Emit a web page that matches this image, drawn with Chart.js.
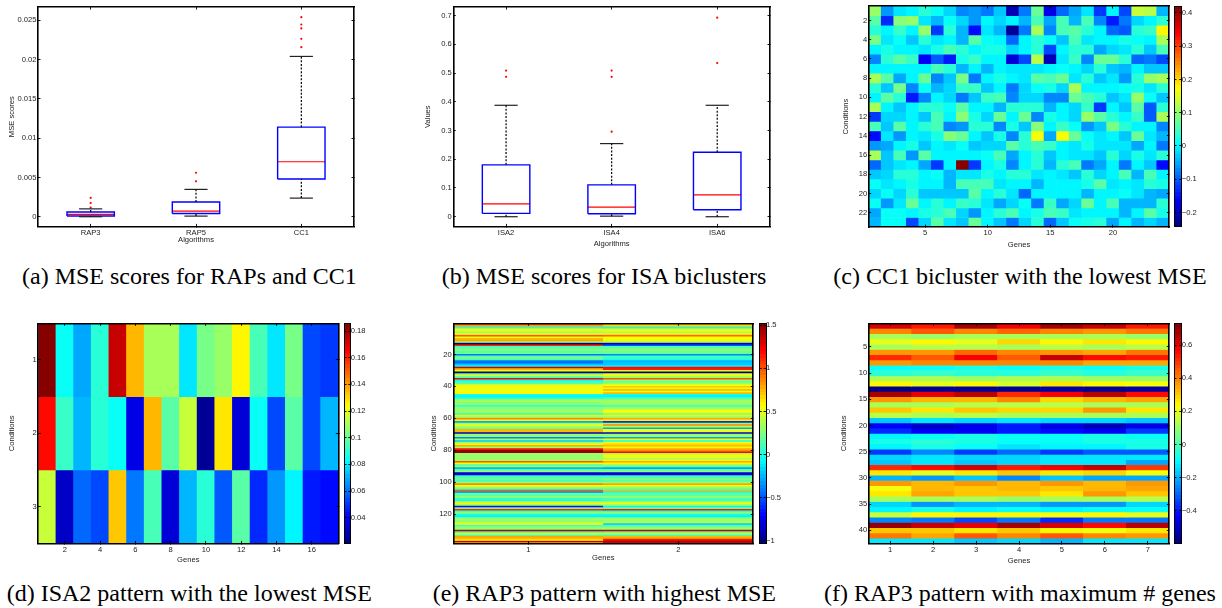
<!DOCTYPE html>
<html><head><meta charset="utf-8"><title>Bicluster figure</title>
<script src="https://cdn.jsdelivr.net/npm/chart.js@4"></script>
<style>
html,body{margin:0;padding:0;background:#fff;width:1222px;height:608px;overflow:hidden}
canvas{position:absolute;display:block;filter:blur(0.45px)}
.cap{position:absolute;font-family:"Liberation Serif",serif;font-size:24px;color:#000;white-space:pre;line-height:24px}
</style></head><body>
<script>
// ---------- data: panel (a)
const algosA=['RAP3','RAP5','CC1'];
const q1A=[0.0001,0.00042,0.0048];
const medA=[0.0003,0.00072,0.007];
const q3A=[0.0006,0.00187,0.0114];
const whiskLowA=[0,0.00008,0.00237];
const whiskHighA=[0.001,0.00348,0.0204];
const outliersA=[[0.0024,0.00174,0.00115],[0.0056,0.0045],[0.0254,0.02446,0.02396,0.02264,0.02158]];
const yTicksA=[0,0.005,0.01,0.015,0.02,0.025];
// ---------- data: panel (b)
const algosB=['ISA2','ISA4','ISA6'];
const q1B=[0.0116,0.0104,0.0243];
const medB=[0.045,0.0336,0.0764];
const q3B=[0.1806,0.111,0.2245];
const whiskLowB=[0,0.002,0];
const whiskHighB=[0.388,0.2546,0.388];
const outliersB=[[0.509,0.487],[0.509,0.487,0.296],[0.693,0.535]];
const yTicksB=[0,0.1,0.2,0.3,0.4,0.5,0.6,0.7];
// ---------- data: panel (c) conditions x genes
const matrixC=[
[0.10,-0.06,-0.01,0.0,0.03,0.01,-0.02,-0.07,-0.06,-0.08,-0.03,-0.21,-0.08,0.07,-0.18,-0.09,-0.05,-0.01,-0.12,0.0,-0.11,0.14,0.13,-0.04],
[0.06,-0.13,0.09,0.10,-0.01,-0.04,0.01,-0.02,-0.06,0.0,-0.02,0.0,-0.04,0.05,-0.05,0.05,-0.04,0.05,-0.07,-0.14,-0.08,-0.02,0.0,0.03],
[0.03,0.0,0.04,0.0,0.10,-0.12,0.03,-0.04,-0.15,-0.01,-0.04,-0.23,-0.08,0.12,-0.07,0.05,0.06,0.03,0.0,-0.09,-0.10,0.03,0.04,0.18],
[0.08,-0.01,0.01,-0.03,0.03,-0.01,0.0,-0.04,0.06,0.01,0.0,-0.09,0.0,0.03,0.01,-0.03,0.05,-0.01,0.0,0.0,0.02,0.01,0.0,0.11],
[0.0,0.02,0.0,0.0,-0.01,0.02,0.05,0.03,0.0,0.02,0.02,-0.02,0.0,0.03,-0.11,0.0,0.03,0.03,-0.05,-0.02,-0.01,0.03,-0.03,0.05],
[-0.07,0.03,0.06,0.04,-0.17,-0.10,-0.14,0.02,0.04,0.0,0.0,-0.19,-0.11,0.13,-0.21,-0.01,0.04,-0.07,0.07,0.07,0.03,-0.09,-0.08,-0.11],
[0,0,0,0,0,0.05,0.03,-0.04,0,-0.04,0,-0.01,-0.01,-0.01,0,0.01,0,-0.02,0.03,-0.03,-0.04,0,-0.03,-0.03],
[0.11,0.06,-0.05,0.0,0.07,-0.07,-0.03,0.08,-0.08,0.0,0.02,0.0,-0.01,0.06,0.05,0.07,-0.01,0.03,-0.03,-0.01,-0.06,0.03,0.10,0.12],
[0.03,-0.03,0.08,-0.07,0.01,-0.04,-0.02,0.04,0.04,-0.03,0.0,-0.08,-0.02,0.01,0.02,-0.02,0.11,0.0,0.0,0.0,0.01,0.02,-0.01,0.03],
[0.0,0.06,0.03,-0.14,-0.07,0.0,-0.02,-0.08,-0.03,0.04,0.05,-0.07,-0.02,-0.02,-0.07,-0.07,0.07,0.05,0.03,-0.03,-0.01,0.10,0.01,-0.03],
[0.12,0.0,-0.03,0.0,0.03,0.03,0.01,0.06,0.0,0.0,-0.04,0.03,0.03,0.03,-0.04,0.0,-0.02,0.04,-0.12,0.0,-0.03,0.06,-0.10,0.03],
[-0.12,-0.02,-0.02,0.0,-0.03,0.05,0.0,0.09,0.02,-0.02,0.07,0.0,0.07,-0.07,0.02,0.0,-0.02,0.10,0.06,0.03,0.0,0.04,-0.10,0.12],
[0.05,-0.03,0.06,0.0,0.03,0.05,-0.07,-0.06,0.03,0.03,-0.07,0.02,-0.03,0.09,0.0,0.04,0.01,-0.06,-0.03,0.08,0.03,0,0,-0.07],
[-0.15,-0.01,-0.06,0.0,-0.01,0.02,0.09,0.07,0.0,-0.03,0.02,-0.07,0.03,0.17,-0.05,0.17,0.07,0.01,-0.01,0.0,-0.03,0.07,-0.01,-0.04],
[-0.06,-0.05,0.0,0.02,-0.03,0.0,-0.01,0.01,-0.03,-0.02,-0.02,0.06,0.03,0.05,0.04,0.0,-0.01,0.02,-0.01,-0.01,-0.01,-0.05,0.0,-0.08],
[0.12,-0.03,0.05,-0.06,0.06,0,0,0,0,0.01,0.05,-0.05,0,0.03,-0.03,0,-0.01,-0.01,-0.03,0.03,-0.02,0.02,-0.01,0.03],
[-0.09,-0.03,-0.01,0.0,-0.05,-0.12,0.0,0.42,-0.12,0.0,0.02,-0.07,0.0,0.03,-0.04,0.03,0.05,-0.08,-0.05,0.0,-0.08,0,-0.03,-0.16],
[-0.03,-0.02,0.03,0.03,0,0.01,-0.04,-0.01,-0.01,0.02,0,0.03,0.03,-0.01,0,-0.01,-0.03,0.03,-0.02,0,0.05,-0.04,0.05,0],
[0.01,-0.01,0,0.02,0,0,-0.04,0.05,0.05,0.05,-0.01,0,0,-0.04,0,0,0,0.02,0.06,-0.01,0,-0.01,0.03,0.02],
[-0.02,0.01,-0.02,0.03,-0.03,-0.03,-0.03,-0.03,0.06,0,0.03,-0.01,-0.09,0,0,0,0,-0.04,0,0,0.01,-0.01,-0.04,-0.05],
[0.01,-0.06,-0.01,0.07,0,0.03,0,0.04,0.03,-0.01,-0.05,-0.02,0.01,-0.08,0.04,-0.05,-0.02,0.07,0,0.05,-0.04,-0.04,-0.04,0.03],
[-0.05,0.01,0.01,0,0.02,0.03,0.05,-0.02,-0.06,0,0.03,0.05,0,0.02,0.05,0.04,-0.01,0,0,0,-0.04,0,0.06,0.02],
[-0.04,0.01,0.01,-0.11,-0.02,0.06,-0.01,-0.03,0.07,0,-0.03,-0.08,-0.02,0.03,-0.09,-0.03,0.01,0.02,0.03,-0.05,0,-0.04,-0.02,-0.04]];
const rangeC=[-0.243,0.421];
const xTicksC=[5,10,15,20], yTicksC=[2,4,6,8,10,12,14,16,18,20,22], barTicksC=[-0.2,-0.1,0,0.1,0.2,0.3,0.4];
// ---------- data: panel (d)
const matrixD=[
[0.186,0.083,0.069,0.088,0.174,0.136,0.110,0.110,0.079,0.103,0.108,0.125,0.094,0.079,0.103,0.052,0.051],
[0.163,0.093,0.072,0.090,0.085,0.039,0.135,0.098,0.114,0.024,0.127,0.036,0.084,0.053,0.097,0.053,0.072],
[0.114,0.032,0.059,0.054,0.132,0.062,0.095,0.036,0.070,0.089,0.056,0.096,0.049,0.067,0.082,0.046,0.042]];
const rangeD=[0.021,0.1858];
const xTicksD=[2,4,6,8,10,12,14,16], yTicksD=[1,2,3], barTicksD=[0.04,0.06,0.08,0.1,0.12,0.14,0.16,0.18];
// ---------- data: panel (e) two genes
const gene1E=[.9,.8,-.03,.55,.5,.3,.55,1.0,.5,.75,.8,.3,-.95,1.1,.1,.2,.25,.15,.2,-.4,.15,.25,.1,-.4,-.45,-.2,-.1,1.3,.75,.5,-1,.2,.55,.1,1.2,-.05,.1,.15,.5,.6,.5,.55,.55,.6,0,-.1,0,.25,.35,.25,.3,.05,.25,.25,.3,.35,.05,.5,.3,.85,.55,-.3,.3,.55,.35,.2,.75,.75,-.9,.3,.25,-.35,.35,-.2,.3,.6,.8,.3,1.2,1.45,1.45,.3,.3,.3,.3,.3,1.0,.55,.1,.3,-.25,.1,.3,-.8,-.75,.05,.15,.2,.05,.3,.85,.55,.3,.15,1.0,-.3,.2,.15,.3,.05,0,.3,.6,.35,-.7,.2,1.1,.1,.25,0,-.1,.2,.35,.25,.4,.6,.1,.25,.3,1.35,0,.6,.1,.8,.75,.6,1.3,.55];
const gene2E=[.6,.7,-.05,.5,.55,.35,.6,.95,.55,.55,.55,.35,-.9,-.5,.1,.2,.3,.2,.2,-.35,.05,.1,0,-.25,-.2,-.2,-.1,1.2,1.15,.45,-.95,.5,.55,.3,1.0,.25,.2,.3,.55,.7,.55,.75,.55,.75,-.05,-.1,.05,.25,.35,.3,.3,.1,.3,.35,.55,.6,.25,.45,.3,.8,.6,-.6,.3,.85,.4,-.3,.55,.5,-.85,.3,.3,-.3,.6,0,.5,.65,.75,.6,.8,.85,1.2,.3,.6,.5,.35,.6,.8,.6,.3,.15,-.3,.1,.3,-.8,-.75,.05,.15,.25,.1,.3,.8,.5,.3,.2,.75,0,.2,.15,.3,.1,.05,.3,.6,.35,-.1,.2,1.15,.05,.25,0,-.1,.2,.35,.3,.4,-.2,.1,.25,.3,1.3,.05,.5,.05,.75,.85,1.3,1.35,1.3];
const rangeE=[-1.027,1.523];
const xTicksE=[1,2], yTicksE=[20,40,60,80,100,120], barTicksE=[-1,-0.5,0,0.5,1,1.5];
// ---------- data: panel (f)
const matrixF=[
[.62,.53,.68,.57,.69,.63,.54],[.40,.45,.39,.44,.38,.36,.42],[.12,.10,.12,.11,.12,.11,.10],[.20,.24,.21,.28,.25,.26,.24],
[.12,.13,.14,.12,.13,.12,.13],[.36,.36,.43,.39,.36,.35,.41],[.52,.45,.57,.46,.64,.56,.53],[.37,.40,.40,.38,.38,.34,.34],
[-.09,-.08,-.07,-.08,-.06,-.09,-.07],[-.04,-.03,-.04,-.04,-.03,-.05,-.03],[.12,.11,.10,.11,.11,.10,.10],[.24,.21,.24,.18,.26,.24,.23],
[-.58,-.56,-.57,-.56,-.55,-.56,-.55],[.68,.60,.67,.52,.57,.66,.55],[.36,.33,.33,.40,.28,.32,.34],[.12,.11,.14,.13,.13,.11,.12],
[.30,.26,.30,.28,.28,.37,.27],[.13,.11,.13,.12,.12,.12,.11],[-.18,-.14,-.15,-.14,-.15,-.15,-.18],[-.45,-.50,-.47,-.40,-.47,-.52,-.47],
[-.38,-.45,-.44,-.41,-.43,-.45,-.36],[-.10,-.08,-.07,-.09,-.08,-.07,-.08],[-.07,-.05,-.07,-.08,-.08,-.06,-.07],[-.10,-.06,-.09,-.14,-.10,-.10,-.07],
[-.35,-.26,-.35,-.30,-.35,-.32,-.32],[-.16,-.14,-.16,-.15,-.14,-.14,-.12],[-.17,-.13,-.18,-.15,-.14,-.14,-.22],[.52,.55,.62,.53,.58,.63,.50],
[.27,.20,.27,.30,.26,.28,.23],[-.20,-.23,-.18,-.25,-.18,-.22,-.21],[.37,.33,.37,.33,.37,.33,.36],[.23,.32,.31,.33,.30,.33,.35],
[.27,.35,.31,.30,.27,.36,.30],[.12,.11,.12,.10,.12,.11,.13],[-.16,-.24,-.19,-.20,-.23,-.24,-.16],[-.10,-.07,-.10,-.08,-.10,-.08,-.09],
[.17,.24,.24,.24,.22,.24,.21],[-.26,-.28,-.34,-.28,-.37,-.28,-.28],[.70,.63,.60,.68,.62,.56,.66],[.30,.30,.26,.30,.25,.23,.27],
[.42,.34,.46,.38,.45,.38,.37],[-.13,-.13,-.18,-.16,-.20,-.14,-.13]];
const rangeF=[-0.598,0.733];
const xTicksF=[1,2,3,4,5,6,7], yTicksF=[5,10,15,20,25,30,35,40], barTicksF=[-0.4,-0.2,0,0.2,0.4,0.6];
// ---------- captions
const captions=[
 ['(a) MSE scores for RAPs and CC1',22,264],
 ['(b) MSE scores for ISA biclusters',441.7,264],
 ['(c) CC1 bicluster with the lowest MSE',833.3,264],
 ['(d) ISA2 pattern with the lowest MSE',6.7,581],
 ['(e) RAP3 pattern with highest MSE',432.7,581],
 ['(f) RAP3 pattern with maximum # genes',824,581]];

// ---------- rendering helpers
Chart.defaults.animation=false;
Chart.defaults.font.family='"Liberation Sans",Arial,sans-serif';
const FONT_SIZE=7.6, INK='#1c1c1c', PAD=3;
const fmt=v=>String(v).replace('-','\u2212');
function mount(left,top,w,h){
  const c=document.createElement('canvas');
  c.width=w;c.height=h;c.style.left=left+'px';c.style.top=top+'px';
  c.style.width=w+'px';c.style.height=h+'px';
  document.body.appendChild(c);return c;
}
function zeroPad(s){s.paddingLeft=s.paddingRight=s.paddingTop=s.paddingBottom=0;}
function axis(pos,min,max,ticks,o={}){
  const horiz=pos==='top'||pos==='bottom';
  const labelled=!!o.labelled;
  const cfg={
    type:'linear',position:pos,axis:horiz?'x':'y',min,max,reverse:!!o.reverse,offset:false,
    grid:{display:true,offset:false,drawOnChartArea:false,drawTicks:true,tickLength:-2.5,tickWidth:0.9,tickColor:'#000',z:2},
    border:{display:true,color:'#000',width:o.bw||1.6,z:2},
    ticks:{display:labelled,autoSkip:false,maxRotation:0,minRotation:0,color:INK,
      font:{size:FONT_SIZE},padding:o.tickPad||4,
      callback:o.labels?(v=>o.labels[ticks.indexOf(v)]):fmt},
    afterBuildTicks:s=>{s.ticks=ticks.map(v=>({value:v}));},
    afterFit:s=>{ if(horiz) s.height=o.size||0; else s.width=o.size||0; zeroPad(s);}
  };
  if(o.title) cfg.title={display:true,text:o.title,color:INK,font:{size:FONT_SIZE,lineHeight:1.2},padding:0};
  return cfg;
}
function place(r,yTitleX,xTitleY){
  const left=Math.floor(yTitleX-4.6), top=Math.floor(r[1]-PAD);
  const yW=r[0]-left, xH=xTitleY+4.6-r[3];
  const w=Math.ceil(r[2]-left+PAD), h=Math.ceil(r[3]-top+xH);
  return {left,top,yW,xH,w,h,pad:{left:0,top:r[1]-top,right:w-(r[2]-left),bottom:0}};
}
function jet(t){
  t=Math.max(0,Math.min(0.99999,t));
  const x=(Math.floor(t*64)+0.5)/64;
  const f=k=>Math.round(255*Math.max(0,Math.min(1,1.5-Math.abs(4*x-k))));
  return `rgb(${f(3)},${f(2)},${f(1)})`;
}
function boxDatasets(q1,med,q3,lo,hi,out){
  const ds=[];const BOX=0.225,CAP=0.11;
  const line=(data,color,width,dash)=>({data,borderColor:color,borderWidth:width,borderDash:dash||[],showLine:true,pointRadius:0,tension:0,fill:false,clip:false});
  q1.forEach((_,i)=>{
    const x=i+1;
    ds.push(line([{x,y:q3[i]},{x,y:hi[i]}],'#000',1.2,[2,1.6]));
    ds.push(line([{x,y:lo[i]},{x,y:q1[i]}],'#000',1.2,[2,1.6]));
    ds.push(line([{x:x-CAP,y:hi[i]},{x:x+CAP,y:hi[i]}],'#222',1.2));
    ds.push(line([{x:x-CAP,y:lo[i]},{x:x+CAP,y:lo[i]}],'#222',1.2));
    ds.push(line([{x:x-BOX,y:q1[i]},{x:x+BOX,y:q1[i]},{x:x+BOX,y:q3[i]},{x:x-BOX,y:q3[i]},{x:x-BOX,y:q1[i]}],'#0000ff',1.4));
    ds.push(line([{x:x-BOX,y:med[i]},{x:x+BOX,y:med[i]}],'#ff0000',1.2));
    ds.push({data:out[i].map(y=>({x,y})),showLine:false,pointRadius:1.1,pointBorderWidth:0,pointBackgroundColor:'#ff0000'});
  });
  return ds;
}
function boxPanel(r,yTitleX,xTitleY,yMin,yMax,yTicks,names,yTitle,data){
  const g=place(r,yTitleX,xTitleY);
  new Chart(mount(g.left,g.top,g.w,g.h),{type:'scatter',data:{datasets:boxDatasets(...data)},
   options:{responsive:false,layout:{padding:g.pad},plugins:{legend:{display:false},tooltip:{enabled:false},title:{display:false}},
    scales:{
     x:axis('bottom',0.5,3.5,[1,2,3],{labelled:true,labels:names,size:g.xH,title:'Algorithms'}),
     y:axis('left',yMin,yMax,yTicks,{labelled:true,size:g.yW,title:yTitle}),
     x2:axis('top',0.5,3.5,[1,2,3]),
     y2:axis('right',yMin,yMax,yTicks)}}});
}
function heatPanel(r,yTitleX,xTitleY,matrix,range,xTicks,yTicks){
  const g=place(r,yTitleX,xTitleY);
  const rows=matrix.length,cols=matrix[0].length;
  const datasets=matrix.map((row,i)=>({
    data:row.map((_,j)=>({x:j+1,y:[i+0.5,i+1.5]})),
    backgroundColor:row.map(v=>jet((v-range[0])/(range[1]-range[0]))),
    borderWidth:0,barPercentage:1,categoryPercentage:1,grouped:false}));
  new Chart(mount(g.left,g.top,g.w,g.h),{type:'bar',data:{datasets},
   options:{responsive:false,layout:{padding:g.pad},plugins:{legend:{display:false},tooltip:{enabled:false},title:{display:false}},
    scales:{
     x:axis('bottom',0.5,cols+0.5,xTicks,{labelled:true,size:g.xH,title:'Genes'}),
     y:axis('left',0.5,rows+0.5,yTicks,{labelled:true,size:g.yW,title:'Conditions',reverse:true}),
     x2:axis('top',0.5,cols+0.5,xTicks),
     y2:axis('right',0.5,rows+0.5,yTicks,{reverse:true})}}});
}
function colorBar(x0,x1,y0,y1,range,ticks){
  const labelW=26;
  const left=Math.floor(x0)-2, top=Math.floor(y0)-PAD;
  const w=Math.ceil(x1-left+labelW), h=Math.ceil(y1-top+3);
  const fill=c=>{
    const a=c.chart.chartArea; if(!a) return '#888';
    const gr=c.chart.ctx.createLinearGradient(0,a.bottom,0,a.top);
    for(let i=0;i<64;i++){const col=jet((i+0.5)/64);gr.addColorStop(i/64,col);gr.addColorStop((i+1)/64,col);}
    return gr;
  };
  new Chart(mount(left,top,w,h),{type:'bar',
   data:{labels:[''],datasets:[{data:[[range[0],range[1]]],backgroundColor:fill,borderWidth:0,barPercentage:1,categoryPercentage:1}]},
   options:{responsive:false,layout:{padding:{left:x0-left,top:y0-top,right:w-(x1-left)-labelW,bottom:h-(y1-top)}},
    plugins:{legend:{display:false},tooltip:{enabled:false},title:{display:false}},
    scales:{
     x:{type:'category',position:'bottom',grid:{display:false},ticks:{display:false},border:{display:true,color:'#000',width:1,z:2},afterFit:s=>{s.height=0;zeroPad(s);}},
     y:axis('right',range[0],range[1],ticks,{labelled:true,size:labelW,bw:1,tickPad:2.5}),
     y3:axis('left',range[0],range[1],ticks,{bw:1}),
     x2:{type:'category',position:'top',axis:'x',labels:[''],grid:{display:false},ticks:{display:false},border:{display:true,color:'#000',width:1,z:2},afterFit:s=>{s.height=0;zeroPad(s);}}
    }}});
}
// ---------- the six panels
boxPanel([38,6,355,226],12,239,-0.00123,0.02669,yTicksA,algosA,'MSE scores',[q1A,medA,q3A,whiskLowA,whiskHighA,outliersA]);
boxPanel([453.3,6,770.7,226],428.3,243,-0.0337,0.7302,yTicksB,algosB,'Values',[q1B,medB,q3B,whiskLowB,whiskHighB,outliersB]);
heatPanel([868.7,6,1169.3,226.7],845.7,244,matrixC,rangeC,xTicksC,yTicksC);
colorBar(1174,1181.7,6,226.7,rangeC,barTicksC);
heatPanel([38.3,323.3,338.3,543],12.3,559,matrixD,rangeD,xTicksD,yTicksD);
colorBar(344,350.7,323.3,543,rangeD,barTicksD);
heatPanel([453.3,323.3,753.3,543],433.7,556.7,gene1E.map((v,i)=>[v,gene2E[i]]),rangeE,xTicksE,yTicksE);
colorBar(759.3,766,323.3,543,rangeE,barTicksE);
heatPanel([868.7,323.3,1169.3,543.3],843.7,560.3,matrixF,rangeF,xTicksF,yTicksF);
colorBar(1174,1181.7,323.3,543.3,rangeF,barTicksF);
captions.forEach(([t,x,y])=>{
  const d=document.createElement('div');d.className='cap';d.textContent=t;
  d.style.left=x+'px';d.style.top=y+'px';document.body.appendChild(d);
});
</script>
</body></html>
